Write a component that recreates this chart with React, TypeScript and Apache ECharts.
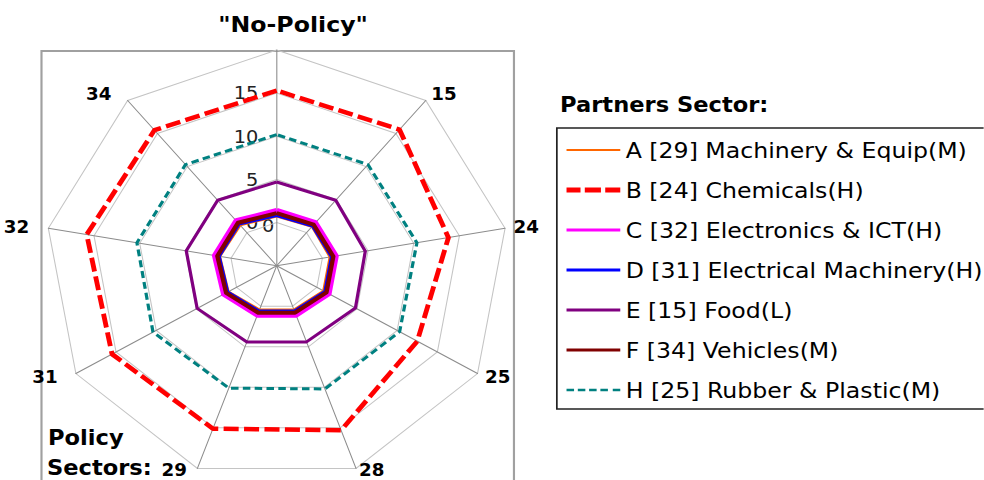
import React, { useEffect, useRef } from 'react';
import * as echarts from 'echarts';

// Policy sectors, clockwise from the top axis
const policySectors = ['', '15', '24', '25', '28', '29', '31', '32', '34'];
const partnerNames = [
  'A [29] Machinery & Equip(M)',
  'B [24] Chemicals(H)',
  'C [32] Electronics & ICT(H)',
  'D [31] Electrical Machinery(H)',
  'E [15] Food(L)',
  'F [34] Vehicles(M)',
  'H [25] Rubber & Plastic(M)',
];
const valuesA = [0.7, 0.9, 0.8, 0.8, 0.4, 0.4, 1.0, 1.2, 1.1];
const valuesB = [15.3, 15.6, 13.8, 12.5, 15.3, 15.1, 15.5, 15.8, 15.5];
const valuesC = [1.4, 1.5, 1.5, 1.5, 1.1, 1.1, 1.6, 1.8, 1.8];
const valuesD = [0.8, 1.0, 1.0, 1.0, 0.6, 0.6, 1.1, 1.3, 1.3];
const valuesE = [4.7, 4.9, 4.7, 4.8, 4.4, 4.4, 4.9, 4.9, 4.9];
const valuesF = [1.1, 1.2, 1.2, 1.2, 0.8, 0.8, 1.3, 1.5, 1.5];
const valuesH = [10.2, 10.3, 10.35, 10.3, 10.2, 10.1, 10.4, 10.3, 10.3];
const axisMin = -5;
const axisMax = 20;
const axisSplits = 5;

const SX = 1.075; // horizontal stretch of the reference picture

const colors = ['#ff6600', '#ff0000', '#ff00ff', '#0000ff', '#800080', '#800000', '#008080'];
const widths = [2, 4.5, 5, 3, 3, 4, 3];
const dashes: any[] = ['solid', [14, 5], 'solid', 'solid', 'solid', 'solid', [7, 4]];

const solidIcon = (h: number) => `path://M0,0M50,6M0,${3 - h / 2}h50v${h}h-50z`;
const icons = [
  solidIcon(2),
  'path://M0,0M50,6M0,0.5h13v5h-13zM17,0.5h15v5h-15zM36,0.5h14v5h-14z',
  solidIcon(3),
  solidIcon(3),
  solidIcon(3),
  solidIcon(3),
  'path://M0,0M50,6M0,1.7h7v2.6h-7zM10.5,1.7h7v2.6h-7zM21,1.7h7v2.6h-7zM31.5,1.7h7v2.6h-7zM43,1.7h7v2.6h-7z',
];

// ECharts places radar indicators counter-clockwise; reorder to clockwise
const cw = <T,>(arr: T[]): T[] => [arr[0], ...arr.slice(1).reverse()];

const nameStyleOf = (name: string) => {
  if (name === '28') return 'lo';
  if (name === '29') return 'loL';
  if (name === '31' || name === '32' || name === '34') return 'L';
  return 'n';
};

export default function App() {
  const ref = useRef<HTMLDivElement>(null);
  useEffect(() => {
    if (!ref.current) return;
    const chart = echarts.init(ref.current, null, { renderer: 'svg' });
    const allValues = [valuesA, valuesB, valuesC, valuesD, valuesE, valuesF, valuesH];
    const font = 'DejaVu Sans';
    const nameBase = { color: '#000', fontSize: 17, fontWeight: 'bold', fontFamily: font };
    chart.setOption({
      animation: false,
      radar: {
        center: [257.4, 265.7],
        radius: 215.7,
        startAngle: 90,
        splitNumber: axisSplits,
        shape: 'polygon',
        nameGap: 8,
        indicator: cw(policySectors).map((name, i) => ({
          name,
          min: axisMin,
          max: axisMax,
          ...(i === 0 ? { axisLabel: { show: true } } : {}),
        })),
        axisName: {
          ...nameBase,
          formatter: (name: string) => (name ? `{${nameStyleOf(name)}|${name}}` : ''),
          rich: {
            n: { ...nameBase },
            L: { ...nameBase, padding: [0, 10, 0, 0] },
            lo: { ...nameBase, padding: [0, 0, 12, 0] },
            loL: { ...nameBase, padding: [0, 7, 12, 0] },
          },
        },
        axisLine: { lineStyle: { color: '#8c8c8c', width: 1 } },
        splitLine: { lineStyle: { color: '#c4c4c4', width: 1 } },
        splitArea: { show: false },
        axisTick: { show: false },
        axisLabel: {
          show: false,
          margin: 17,
          color: '#222',
          fontSize: 18,
          fontFamily: font,
          formatter: (v: number) => (v > axisMin && v < axisMax ? String(v) : ''),
        },
      },
      legend: {
        orient: 'vertical',
        left: 518,
        top: 128,
        padding: [9, 40, 7, 9],
        itemGap: 14,
        itemWidth: 50,
        itemHeight: 6,
        borderWidth: 0,
        selectedMode: false,
        textStyle: { fontSize: 22, fontFamily: font, color: '#000', lineHeight: 26 },
        itemStyle: { borderWidth: 0 },
        data: partnerNames.map((name, i) => ({
          name,
          icon: icons[i],
          itemStyle: { color: colors[i], borderWidth: 0 },
        })),
      },
      series: [
        {
          type: 'radar',
          symbol: 'none',
          silent: true,
          data: partnerNames.map((name, i) => ({
            name,
            value: cw(allValues[i]),
            itemStyle: { color: colors[i] },
            lineStyle: { color: colors[i], width: widths[i], type: dashes[i] },
          })),
        },
      ],
      graphic: [
        {
          type: 'rect',
          z: 0,
          shape: { x: 38.6, y: 51, width: 439.5, height: 440 },
          style: { fill: 'none', stroke: '#a0a0a0', lineWidth: 2 },
        },
        {
          type: 'rect',
          z: 0,
          shape: { x: 518, y: 128, width: 500, height: 281 },
          style: { fill: 'none', stroke: '#222', lineWidth: 1.6 },
        },
        {
          type: 'text',
          x: 272.6,
          y: 24,
          style: {
            text: '"No-Policy"',
            fontSize: 22,
            fontWeight: 'bold',
            fontFamily: font,
            fill: '#000',
            align: 'center',
            verticalAlign: 'middle',
          },
        },
        {
          type: 'text',
          x: 521,
          y: 105,
          style: {
            text: 'Partners Sector:',
            fontSize: 21,
            fontWeight: 'bold',
            fontFamily: font,
            fill: '#000',
            align: 'left',
            verticalAlign: 'middle',
          },
        },
        {
          type: 'text',
          x: 44.7,
          y: 438,
          style: {
            text: 'Policy',
            fontSize: 21,
            fontWeight: 'bold',
            fontFamily: font,
            fill: '#000',
            align: 'left',
            verticalAlign: 'middle',
          },
        },
        {
          type: 'text',
          x: 43.7,
          y: 468,
          style: {
            text: 'Sectors:',
            fontSize: 21,
            fontWeight: 'bold',
            fontFamily: font,
            fill: '#000',
            align: 'left',
            verticalAlign: 'middle',
          },
        },
        {
          type: 'text',
          x: 243.7,
          y: 226,
          style: {
            text: '0',
            fontSize: 18,
            fontFamily: font,
            fill: '#222',
            align: 'left',
            verticalAlign: 'middle',
          },
        },
      ],
    });
    return () => chart.dispose();
  }, []);
  return (
    <div
      ref={ref}
      style={{
        position: 'absolute',
        left: 0,
        top: 0,
        width: 915,
        height: 480,
        transform: `scaleX(${SX})`,
        transformOrigin: '0 0',
      }}
    />
  );
}
